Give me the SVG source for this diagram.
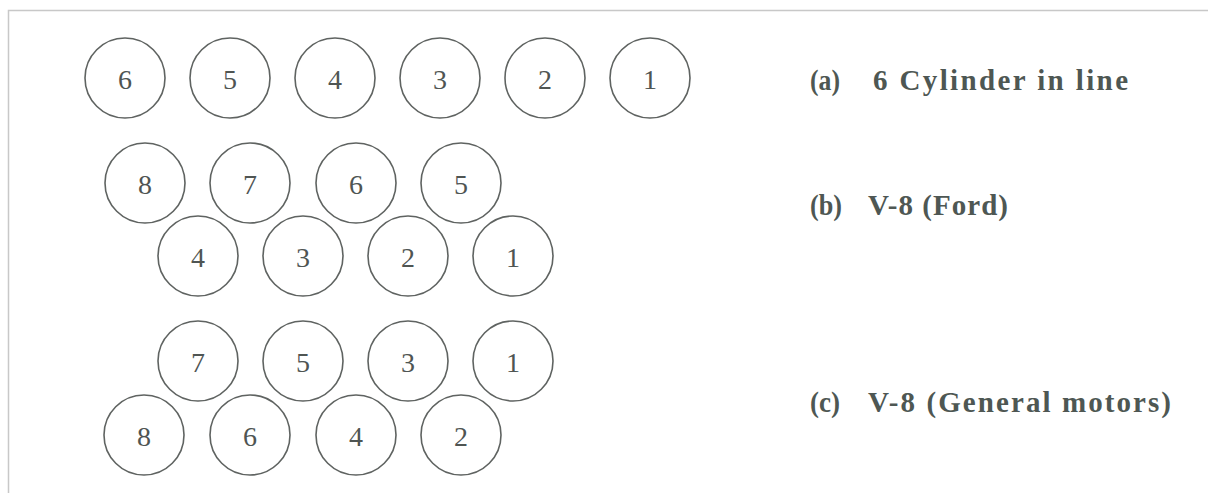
<svg xmlns="http://www.w3.org/2000/svg" width="1208" height="493" viewBox="0 0 1208 493">
<style>
.bg{fill:#ffffff}
.frame{stroke:#c8c8c8;stroke-width:1.5;fill:none}
.cyl circle{fill:none;stroke:#5f6361;stroke-width:1.6}
.cyl text{font-family:"Liberation Serif","DejaVu Serif",serif;font-size:28px;fill:#4f5553;text-anchor:middle}
.lbl{font-family:"Liberation Serif","DejaVu Serif",serif;font-size:29px;font-weight:bold;fill:#4e5753}
</style>
<rect class="bg" x="0" y="0" width="1208" height="493"/>
<path class="frame" d="M8.5 493 V10.5 H1208"/>
<g id="row-a">
<g id="a6" class="cyl"><circle cx="125" cy="78" r="40"/><text x="125" y="89">6</text></g>
<g id="a5" class="cyl"><circle cx="230" cy="78" r="40"/><text x="230" y="89">5</text></g>
<g id="a4" class="cyl"><circle cx="335" cy="78" r="40"/><text x="335" y="89">4</text></g>
<g id="a3" class="cyl"><circle cx="440" cy="78" r="40"/><text x="440" y="89">3</text></g>
<g id="a2" class="cyl"><circle cx="545" cy="78" r="40"/><text x="545" y="89">2</text></g>
<g id="a1" class="cyl"><circle cx="650" cy="78" r="40"/><text x="650" y="89">1</text></g>
</g>
<g id="row-b">
<g id="b8" class="cyl"><circle cx="145" cy="183" r="40"/><text x="145" y="193.5">8</text></g>
<g id="b7" class="cyl"><circle cx="250" cy="183" r="40"/><text x="250" y="193.5">7</text></g>
<g id="b6" class="cyl"><circle cx="356" cy="183" r="40"/><text x="356" y="193.5">6</text></g>
<g id="b5" class="cyl"><circle cx="461" cy="183" r="40"/><text x="461" y="193.5">5</text></g>
<g id="b4" class="cyl"><circle cx="198" cy="256" r="40"/><text x="198" y="266.5">4</text></g>
<g id="b3" class="cyl"><circle cx="303" cy="256" r="40"/><text x="303" y="266.5">3</text></g>
<g id="b2" class="cyl"><circle cx="408" cy="256" r="40"/><text x="408" y="266.5">2</text></g>
<g id="b1" class="cyl"><circle cx="513" cy="256" r="40"/><text x="513" y="266.5">1</text></g>
</g>
<g id="row-c">
<g id="c7" class="cyl"><circle cx="198" cy="361" r="40"/><text x="198" y="371.5">7</text></g>
<g id="c5" class="cyl"><circle cx="303" cy="361" r="40"/><text x="303" y="371.5">5</text></g>
<g id="c3" class="cyl"><circle cx="408" cy="361" r="40"/><text x="408" y="371.5">3</text></g>
<g id="c1" class="cyl"><circle cx="513" cy="361" r="40"/><text x="513" y="371.5">1</text></g>
<g id="c8" class="cyl"><circle cx="144" cy="435" r="40"/><text x="144" y="445.5">8</text></g>
<g id="c6" class="cyl"><circle cx="250" cy="435" r="40"/><text x="250" y="445.5">6</text></g>
<g id="c4" class="cyl"><circle cx="356" cy="435" r="40"/><text x="356" y="445.5">4</text></g>
<g id="c2" class="cyl"><circle cx="461" cy="435" r="40"/><text x="461" y="445.5">2</text></g>
</g>
<g id="labels">
<g id="label-a"><text class="lbl" x="810" y="90" textLength="30" lengthAdjust="spacingAndGlyphs">(a)</text><text class="lbl" x="873" y="90" textLength="255" lengthAdjust="spacing">6 Cylinder in line</text></g>
<g id="label-b"><text class="lbl" x="810" y="215" textLength="32" lengthAdjust="spacingAndGlyphs">(b)</text><text class="lbl" x="868" y="215" textLength="140" lengthAdjust="spacing">V-8 (Ford)</text></g>
<g id="label-c"><text class="lbl" x="810" y="412" textLength="30" lengthAdjust="spacingAndGlyphs">(c)</text><text class="lbl" x="868" y="412" textLength="303" lengthAdjust="spacing">V-8 (General motors)</text></g>
</g>
<g id="connectors"/>
</svg>
